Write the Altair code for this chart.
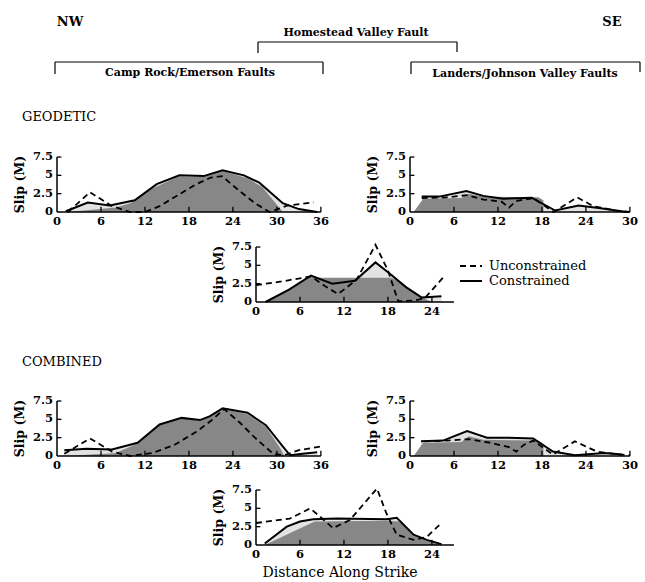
import altair as alt
import pandas as pd

K = 7.33  # pixels per unit (km / m), same on both axes

# ---------------- data ----------------
# Geodetic, Camp Rock / Emerson (0-36 km)
g1_model_x = [1.5, 8, 10, 13, 16.5, 20, 22.6, 26, 28, 30, 30.8]
g1_model_y = [0, 0.6, 1.2, 3.2, 4.8, 4.8, 5.6, 4.6, 3.4, 1.0, 0]
g1_con_x = [1.2, 4.2, 7.2, 10.6, 13.6, 16.7, 20.0, 22.6, 25.5, 27.6, 30.8, 33, 35.5]
g1_con_y = [0.1, 1.3, 0.9, 1.6, 3.8, 5.0, 4.9, 5.7, 5.0, 4.0, 1.2, 0.4, 0.0]
g1_unc_x = [1.5, 4.5, 7.5, 10, 12, 14, 16.5, 19, 21, 22.5, 24.5, 27, 29, 31.5, 35]
g1_unc_y = [0.0, 2.7, 0.8, 0.0, 0.0, 0.8, 2.3, 3.8, 4.7, 4.9, 3.2, 1.2, 0.0, 0.9, 1.3]

# Geodetic, Landers / Johnson Valley (0-30 km)
g2_model_x = [0.5, 1.8, 7, 8, 10, 17.5, 18.2, 18.21]
g2_model_y = [0, 1.8, 1.9, 2.5, 2.1, 2.0, 1.6, 0]
g2_con_x = [1.6, 4, 7.7, 10, 12.7, 16.6, 19.8, 23, 26, 29.6]
g2_con_y = [2.1, 2.1, 2.85, 2.2, 1.8, 1.95, 0.2, 0.9, 0.5, 0.0]
g2_unc_x = [1.6, 5, 7.8, 10, 12.5, 13.5, 14.5, 16.8, 19.6, 22.8, 25, 28, 30]
g2_unc_y = [1.9, 2.0, 2.3, 1.7, 1.4, 0.6, 1.5, 1.9, 0.0, 2.0, 0.8, 0.2, 0.0]

# Geodetic, Homestead Valley (0-27 km)
g3_model_x = [1.3, 7.5, 8.5, 18.5, 19.5, 21.5, 23.3, 24]
g3_model_y = [0, 3.4, 3.3, 3.3, 2.8, 1.5, 0.3, 0]
g3_con_x = [1.3, 4.5, 7.5, 10.4, 13.5, 16.3, 18.1, 20.5, 22.6, 25.3]
g3_con_y = [0.0, 1.7, 3.6, 2.5, 2.9, 5.4, 4.0, 2.0, 0.6, 0.8]
g3_unc_x = [0, 3.5, 7.5, 9.5, 11.2, 13.7, 16.3, 18, 19.4, 21.5, 23, 25.5]
g3_unc_y = [2.3, 2.8, 3.5, 2.1, 1.1, 3.0, 7.8, 4.3, 0.1, 0.2, 0.5, 3.3]

# Combined, Camp Rock / Emerson
c1_model_x = [1.3, 8, 11, 14, 17, 19.5, 22.8, 26, 28.5, 30.5, 31]
c1_model_y = [0, 0.4, 1.7, 4.2, 5.1, 4.8, 6.4, 5.7, 4.0, 1.0, 0]
c1_con_x = [1, 4, 7.5, 11, 14, 17, 19.5, 20.8, 22.6, 26, 28.5, 30.8, 31.8, 33.5, 35.5]
c1_con_y = [0.8, 1.0, 0.9, 1.8, 4.3, 5.2, 4.9, 5.4, 6.5, 5.9, 4.2, 1.3, 0.1, 0.3, 0.5]
c1_unc_x = [1, 4.5, 7.5, 10, 13, 16, 19, 21, 22.8, 25, 27, 29.5, 31, 33, 36]
c1_unc_y = [0.3, 2.4, 0.6, 0.0, 0.4, 1.5, 3.3, 4.8, 6.4, 4.5, 2.5, 0.3, 0.1, 0.8, 1.3]

# Combined, Landers / Johnson Valley
c2_model_x = [0.5, 1.8, 7, 8, 10, 17.5, 18.2, 18.21]
c2_model_y = [0, 1.8, 1.9, 2.7, 2.2, 2.1, 1.6, 0]
c2_con_x = [1.5, 4.5, 7.8, 10.5, 13.5, 16.8, 19.5, 22.5, 26.5, 29]
c2_con_y = [2.0, 2.1, 3.4, 2.5, 2.5, 2.4, 0.6, 0.1, 0.4, 0.2]
c2_unc_x = [2, 5, 8, 11, 13.5, 14.5, 15.5, 16.8, 19.5, 22.5, 25.5, 28.5, 30]
c2_unc_y = [2.0, 2.1, 2.3, 1.8, 1.2, 0.6, 1.5, 2.1, 0.2, 2.0, 0.6, 0.2, 0.1]

# Combined, Homestead Valley
c3_model_x = [1.2, 8, 18, 19.5, 21.5, 23.5, 25]
c3_model_y = [0, 3.2, 3.3, 3.2, 1.3, 0.5, 0]
c3_con_x = [1.2, 4.2, 6, 7.8, 11, 17.8, 19.2, 21.5, 23.3, 25.3]
c3_con_y = [0.2, 2.5, 3.2, 3.5, 3.6, 3.5, 3.7, 1.4, 0.7, 0.1]
c3_unc_x = [0, 4.6, 7.4, 8.7, 10.5, 12.8, 16.5, 17.8, 19.2, 21.5, 23.3, 25.3]
c3_unc_y = [3.0, 3.6, 5.0, 3.9, 2.3, 3.4, 7.7, 4.3, 1.4, 0.7, 1.1, 3.0]

ticks_36 = [0, 6, 12, 18, 24, 30, 36]
ticks_30 = [0, 6, 12, 18, 24, 30]
ticks_27 = [0, 6, 12, 18, 24]
y_ticks = [0, 2.5, 5, 7.5]
y_tick_labels = ["0", "2.5", "5", "7.5"]

SERIF = "DejaVu Serif"


def xy(xs, ys):
    return pd.DataFrame({"x": xs, "y": ys, "z": [0.0] * len(xs), "i": list(range(len(xs)))})


def panel(x0, y0, xmax, xticks, model, con, unc):
    xs = alt.Scale(domain=[0, xmax], range=[x0, x0 + K * xmax], nice=False, zero=False)
    ys = alt.Scale(domain=[0, 7.5], range=[y0, y0 - K * 7.5], nice=False, zero=False)

    def X(f="x"):
        return alt.X(f, type="quantitative", scale=xs, axis=None)

    def Y(f="y"):
        return alt.Y(f, type="quantitative", scale=ys, axis=None, stack=None)

    mdf = xy(*model)
    cdf = xy(*con)
    udf = xy(*unc)

    light = alt.Chart(cdf).mark_area(color="#e2e2e2", opacity=1).encode(
        x=X(), y=Y(), y2="z")
    dark = alt.Chart(mdf).mark_area(color="#878787", opacity=1).encode(
        x=X(), y=Y(), y2="z")
    uline = alt.Chart(udf).mark_line(color="black", strokeWidth=1.8, strokeDash=[6, 4]).encode(
        x=X(), y=Y(), order=alt.Order("i:Q"))
    cline = alt.Chart(cdf).mark_line(color="black", strokeWidth=2).encode(
        x=X(), y=Y(), order=alt.Order("i:Q"))

    axdf = pd.DataFrame({"x": [0], "x2": [xmax], "y": [0], "y2": [7.5]})
    xdom = alt.Chart(axdf).mark_rule(color="black", strokeWidth=1.5).encode(
        x=X(), x2="x2", y=Y())
    ydom = alt.Chart(axdf).mark_rule(color="black", strokeWidth=1.5).encode(
        x=X(), y=Y("y2"), y2="y")

    xt = pd.DataFrame({"x": xticks, "y": [0] * len(xticks), "t": [0.7] * len(xticks),
                       "lab": [str(t) for t in xticks]})
    xtick = alt.Chart(xt[xt.x > 0]).mark_rule(color="black", strokeWidth=1.3).encode(
        x=X(), y=Y(), y2="t")
    xlab = alt.Chart(xt).mark_text(font=SERIF, fontWeight="bold", fontSize=11.5,
                                   baseline="top", dy=4).encode(x=X(), y=Y(), text="lab")

    yt = pd.DataFrame({"x": [0] * 4, "t": [0.6] * 4, "y": y_ticks, "lab": y_tick_labels})
    ytick = alt.Chart(yt[yt.y > 0]).mark_rule(color="black", strokeWidth=1.3).encode(
        x=X(), x2="t", y=Y())
    ylab = alt.Chart(yt).mark_text(font=SERIF, fontWeight="bold", fontSize=11.5,
                                   align="right", baseline="middle", dx=-4).encode(
        x=X(), y=Y(), text="lab")

    tdf = pd.DataFrame({"x": [-5.0], "y": [3.75], "lab": ["Slip (M)"]})
    ttl = alt.Chart(tdf).mark_text(font=SERIF, fontWeight="bold", fontSize=12.5, angle=270,
                                   align="center", baseline="middle").encode(
        x=X(), y=Y(), text="lab")

    return alt.layer(light, dark, uline, cline, xdom, ydom, xtick, xlab, ytick, ylab, ttl)


g1 = panel(57, 212, 36, ticks_36, (g1_model_x, g1_model_y), (g1_con_x, g1_con_y), (g1_unc_x, g1_unc_y))
g2 = panel(410, 212, 30, ticks_30, (g2_model_x, g2_model_y), (g2_con_x, g2_con_y), (g2_unc_x, g2_unc_y))
g3 = panel(256, 302, 27, ticks_27, (g3_model_x, g3_model_y), (g3_con_x, g3_con_y), (g3_unc_x, g3_unc_y))
c1 = panel(57, 456, 36, ticks_36, (c1_model_x, c1_model_y), (c1_con_x, c1_con_y), (c1_unc_x, c1_unc_y))
c2 = panel(410, 456, 30, ticks_30, (c2_model_x, c2_model_y), (c2_con_x, c2_con_y), (c2_unc_x, c2_unc_y))
c3 = panel(256, 545, 27, ticks_27, (c3_model_x, c3_model_y), (c3_con_x, c3_con_y), (c3_unc_x, c3_unc_y))

# ---------------- annotations (pixel positions) ----------------
PX = lambda f: alt.X(f, type="quantitative", scale=None, axis=None)
PY = lambda f: alt.Y(f, type="quantitative", scale=None, axis=None)

bold_txt = pd.DataFrame({
    "px": [70, 612, 356, 190, 525],
    "py": [22, 22, 33, 73, 74],
    "lab": ["NW", "SE", "Homestead Valley Fault", "Camp Rock/Emerson Faults",
            "Landers/Johnson Valley Faults"],
    "fs": [13, 13, 11, 11, 11],
})
header = alt.Chart(bold_txt).mark_text(font=SERIF, fontWeight="bold", baseline="middle").encode(
    x=PX("px"), y=PY("py"), text="lab", size=alt.Size("fs:Q", scale=None, legend=None))

brackets = pd.DataFrame({
    "a": [258, 55, 411, 258, 457, 55, 323, 411, 640],
    "b": [457, 323, 640, 258, 457, 55, 323, 411, 640],
    "c": [42, 62, 62, 42, 42, 62, 62, 62, 62],
    "d": [42, 62, 62, 53, 52, 74, 74, 74, 72],
})
brk = alt.Chart(brackets).mark_rule(color="black", strokeWidth=1.2).encode(
    x=PX("a"), x2="b", y=PY("c"), y2="d")

plain_txt = pd.DataFrame({
    "px": [22, 22],
    "py": [117, 362],
    "lab": ["GEODETIC", "COMBINED"],
})
sections = alt.Chart(plain_txt).mark_text(font=SERIF, fontSize=13, align="left",
                                          baseline="middle").encode(
    x=PX("px"), y=PY("py"), text="lab")

xtitle = alt.Chart(pd.DataFrame({"px": [340], "py": [573], "lab": ["Distance Along Strike"]})).mark_text(
    font=SERIF, fontSize=14, baseline="middle").encode(x=PX("px"), y=PY("py"), text="lab")

# legend
leg_lines = pd.DataFrame({"a": [460, 460], "b": [482, 482], "c": [266, 281],
                          "s": ["Unconstrained", "Constrained"]})
leg_u = alt.Chart(leg_lines.iloc[[0]]).mark_rule(color="black", strokeWidth=1.8,
                                                 strokeDash=[6, 4]).encode(
    x=PX("a"), x2="b", y=PY("c"))
leg_c = alt.Chart(leg_lines.iloc[[1]]).mark_rule(color="black", strokeWidth=2).encode(
    x=PX("a"), x2="b", y=PY("c"))
leg_t = alt.Chart(leg_lines).mark_text(font=SERIF, fontSize=13, align="left",
                                       baseline="middle", dx=7).encode(
    x=PX("b"), y=PY("c"), text="s")

chart = alt.layer(
    g1, g2, g3, c1, c2, c3, header, brk, sections, xtitle, leg_u, leg_c, leg_t
).resolve_scale(x="independent", y="independent").properties(
    width=645, height=582, padding=0,
    autosize=alt.AutoSizeParams(type="none"),
    background="white",
).configure_view(stroke=None)

chart.save("out.html", embed_options={"renderer": "svg", "actions": False})
